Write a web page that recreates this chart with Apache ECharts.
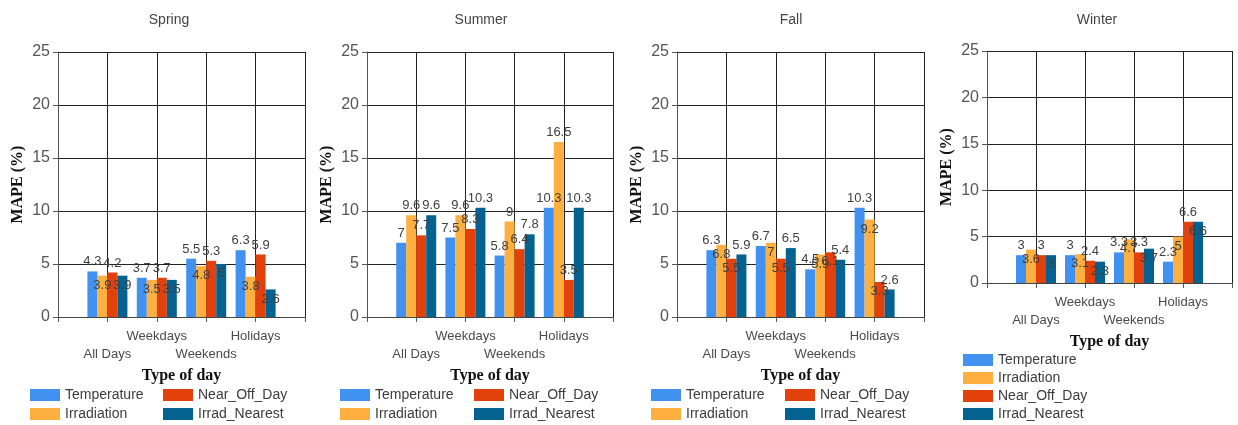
<!DOCTYPE html>
<html>
<head>
<meta charset="utf-8">
<script src="https://cdn.jsdelivr.net/npm/echarts@6/dist/echarts.min.js"></script>
<style>
  html, body { margin: 0; padding: 0; background: #fff; }
  #chart { width: 1238px; height: 425px; }
</style>
</head>
<body>
<div id="chart"></div>
<script>
// ---------- data ----------
const categories = ['All Days', 'Weekdays', 'Weekends', 'Holidays'];
const seriesNames = ['Temperature', 'Irradiation', 'Near_Off_Day', 'Irrad_Nearest'];
const seasons = ['Spring', 'Summer', 'Fall', 'Winter'];
const yTicks = [0, 5, 10, 15, 20, 25];

const springTemperature = [4.3, 3.7, 5.5, 6.3];
const springIrradiation = [3.9, 3.5, 4.8, 3.8];
const springNearOffDay  = [4.2, 3.7, 5.3, 5.9];
const springIrradNearest = [3.9, 3.5, 5.0, 2.6];

const summerTemperature = [7.0, 7.5, 5.8, 10.3];
const summerIrradiation = [9.6, 9.6, 9.0, 16.5];
const summerNearOffDay  = [7.7, 8.3, 6.4, 3.5];
const summerIrradNearest = [9.6, 10.3, 7.8, 10.3];

const fallTemperature = [6.3, 6.7, 4.5, 10.3];
const fallIrradiation = [6.8, 7.0, 5.9, 9.2];
const fallNearOffDay  = [5.5, 5.5, 6.1, 3.3];
const fallIrradNearest = [5.9, 6.5, 5.4, 2.6];

const winterTemperature = [3.0, 3.0, 3.3, 2.3];
const winterIrradiation = [3.6, 3.1, 4.7, 5.0];
const winterNearOffDay  = [3.0, 2.4, 3.3, 6.6];
const winterIrradNearest = [3.0, 2.3, 3.7, 6.6];

const seasonData = [
  [springTemperature, springIrradiation, springNearOffDay, springIrradNearest],
  [summerTemperature, summerIrradiation, summerNearOffDay, summerIrradNearest],
  [fallTemperature, fallIrradiation, fallNearOffDay, fallIrradNearest],
  [winterTemperature, winterIrradiation, winterNearOffDay, winterIrradNearest]
];

// ---------- styles / layout ----------
const colors = ['#4191F0', '#FDB03F', '#E2410C', '#03628F'];
const panels = [
  { left: 58,  top: 52, width: 247, height: 265, titleX: 164,  labelPos: ['top', 'insideTop', 'top', 'insideTop'], legendGap: 3, legend: [{ left: 30, top: 387 }, { left: 163, top: 387 }] },
  { left: 367, top: 52, width: 246, height: 265, titleX: 476,  labelPos: ['top', 'top', 'top', 'top'], legendGap: 3, legend: [{ left: 340, top: 387 }, { left: 474, top: 387 }] },
  { left: 677, top: 52, width: 247, height: 265, titleX: 786,  labelPos: ['top', 'insideTop', 'insideTop', 'top'], legendGap: 3, legend: [{ left: 651, top: 387 }, { left: 785, top: 387 }] },
  { left: 987, top: 51, width: 245, height: 232, titleX: 1092, labelPos: ['top', 'insideTop', 'top', 'insideTop'], legendGap: 2, legend: [{ left: 963, top: 352 }] }
];

const sansFont = '"Liberation Sans", Arial, sans-serif';
const serifFont = '"Liberation Serif", "Times New Roman", serif';

function legendBase(gap) {
  return {
    orient: 'vertical',
    itemWidth: 30, itemHeight: 12, itemGap: gap, icon: 'rect', padding: 0,
    textStyle: { fontFamily: sansFont, fontSize: 14, lineHeight: 16, color: '#3c3c3c' },
    selectedMode: false
  };
}

const option = {
  animation: false,
  backgroundColor: '#ffffff',
  color: colors,
  title: [],
  grid: [],
  xAxis: [],
  yAxis: [],
  legend: [],
  series: []
};

panels.forEach((p, pi) => {
  option.title.push({
    text: seasons[pi],
    left: p.titleX,
    top: 8,
    textAlign: 'center',
    textStyle: { fontFamily: sansFont, fontSize: 14, fontWeight: 'normal', color: '#444' }
  });
  option.grid.push({ left: p.left, top: p.top, width: p.width, height: p.height, containLabel: false });
  option.xAxis.push({
    type: 'value',
    gridIndex: pi,
    min: 0,
    max: categories.length + 1,
    interval: 1,
    name: 'Type of day',
    nameLocation: 'middle',
    nameGap: 41,
    nameTextStyle: { fontFamily: serifFont, fontSize: 16, fontWeight: 'bold', color: '#111' },
    axisLine: { show: true, lineStyle: { color: '#444', width: 1 } },
    axisTick: { show: true, length: 5, lineStyle: { color: '#555' } },
    splitLine: { show: true, lineStyle: { color: '#222', width: 1 } },
    axisLabel: {
      show: true,
      margin: 10,
      fontFamily: sansFont,
      fontSize: 13,
      lineHeight: 18,
      color: '#4a4a4a',
      showMinLabel: true,
      showMaxLabel: true,
      formatter: function (v) {
        const idx = Math.round(v) - 1;
        if (idx < 0 || idx >= categories.length) return '';
        return idx % 2 === 0 ? '\n' + categories[idx] : categories[idx];
      }
    }
  });
  option.yAxis.push({
    type: 'value',
    gridIndex: pi,
    min: yTicks[0],
    max: yTicks[yTicks.length - 1],
    interval: yTicks[1] - yTicks[0],
    name: 'MAPE (%)',
    nameLocation: 'middle',
    nameGap: 32,
    nameTextStyle: { fontFamily: serifFont, fontSize: 16, fontWeight: 'bold', color: '#111' },
    axisLine: { show: true, lineStyle: { color: '#555', width: 1 } },
    axisTick: { show: true, length: 5, lineStyle: { color: '#555' } },
    splitLine: { show: true, lineStyle: { color: '#222', width: 1 } },
    axisLabel: { margin: 8, fontFamily: sansFont, fontSize: 16, color: '#555' }
  });

  if (p.legend.length === 2) {
    option.legend.push(Object.assign(legendBase(p.legendGap), {
      left: p.legend[0].left, top: p.legend[0].top,
      data: [seriesNames[0], seriesNames[1]]
    }));
    option.legend.push(Object.assign(legendBase(p.legendGap), {
      left: p.legend[1].left, top: p.legend[1].top,
      data: [seriesNames[2], seriesNames[3]]
    }));
  } else {
    option.legend.push(Object.assign(legendBase(p.legendGap), {
      left: p.legend[0].left, top: p.legend[0].top, height: 72,
      data: seriesNames.slice()
    }));
  }

  seriesNames.forEach((name, si) => {
    option.series.push({
      type: 'bar',
      name: name,
      xAxisIndex: pi,
      yAxisIndex: pi,
      barWidth: 10,
      barGap: '0%',
      itemStyle: { color: colors[si] },
      label: {
        show: true,
        position: p.labelPos[si],
        distance: 3,
        fontFamily: sansFont,
        fontSize: 13,
        color: '#404040'
      },
      data: seasonData[pi][si].map((v, ci) => [ci + 1, v])
    });
  });
});

const chart = echarts.init(document.getElementById('chart'), null, { renderer: 'canvas' });
chart.setOption(option);
</script>
</body>
</html>
